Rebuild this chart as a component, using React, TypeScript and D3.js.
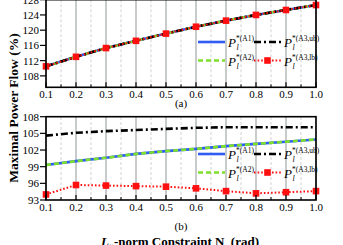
import React from "react";
import * as d3 from "d3";

const xs = [0.1, 0.2, 0.3, 0.4, 0.5, 0.6, 0.7, 0.8, 0.9, 1.0];
const topAll = [110.5, 113.0, 115.3, 117.2, 119.1, 120.9, 122.5, 124.0, 125.3, 126.6];
const botA1 = [99.3, 100.0, 100.6, 101.3, 101.8, 102.2, 102.7, 103.1, 103.5, 103.9];
const botA2 = [99.3, 100.0, 100.6, 101.3, 101.8, 102.2, 102.7, 103.1, 103.5, 103.9];
const botUb = [104.6, 105.1, 105.4, 105.6, 105.8, 106.0, 106.1, 106.1, 106.1, 106.1];
const botLb = [94.0, 95.7, 95.6, 95.5, 95.4, 95.1, 94.6, 94.2, 94.4, 94.6];
const xTicks = [0.1, 0.2, 0.3, 0.4, 0.5, 0.6, 0.7, 0.8, 0.9, 1.0];
const xMinor = [0.15, 0.25, 0.35, 0.45, 0.55, 0.65, 0.75, 0.85, 0.95];
const topTicks = [108, 112, 116, 120, 124, 128];
const botTicks = [93, 96, 99, 102, 105, 108];
const legendKeys = ["A1", "A3,ub", "A2", "A3,lb"];

const FONT = "'Liberation Serif', 'DejaVu Serif', serif";
const BLUE = "#2f5cf5";
const GREEN = "#7ee02a";
const RED = "#ff1010";

const x = d3.scaleLinear().domain([0.1, 1.0]).range([46, 316]);

type PanelProps = {
  y: d3.ScaleLinear<number, number>;
  ticks: number[];
  series: { vals: number[]; kind: string }[];
  caption: string;
  capY: number;
  legY: number;
};

function LegendEntry({ kind, x0, y0, label }: { kind: string; x0: number; y0: number; label: string }) {
  const st = style(kind);
  return (
    <g>
      <line x1={x0} x2={x0 + 27} y1={y0} y2={y0} stroke={st.color} strokeWidth={st.w} strokeDasharray={st.dash} />
      {kind === "lb" && <rect x={x0 + 13.5 - 3.3} y={y0 - 3.3} width={6.6} height={6.6} fill={RED} />}
      <text x={x0 + 30} y={y0 + 5} fontFamily={FONT} fontSize={13} fontStyle="italic">P</text>
      <text x={x0 + 38} y={y0 - 1} fontFamily={FONT} fontSize={7.5}>{"*(" + label + ")"}</text>
      <text x={x0 + 38.5} y={y0 + 8} fontFamily={FONT} fontSize={8} fontStyle="italic">l</text>
    </g>
  );
}

function style(kind: string) {
  if (kind === "A1") return { color: BLUE, w: 2.6, dash: undefined as string | undefined };
  if (kind === "A2") return { color: GREEN, w: 2.6, dash: "5,3" };
  if (kind === "ub") return { color: "#000", w: 2.6, dash: "7,3,2,3" };
  return { color: RED, w: 2, dash: "1.6,2" };
}

function Panel({ y, ticks, series, caption, capY, legY }: PanelProps) {
  const [y0, y1] = y.range();
  const line = (vals: number[]) =>
    d3.line<number>().x((_, i) => x(xs[i])).y((v) => y(v))(vals) || "";
  return (
    <g>
      {xMinor.map((t) => (
        <line key={"m" + t} x1={x(t)} x2={x(t)} y1={y0} y2={y1} stroke="#c8c8c8" strokeWidth={0.8} strokeDasharray="3,2" />
      ))}
      {xTicks.map((t) => (
        <line key={"g" + t} x1={x(t)} x2={x(t)} y1={y0} y2={y1} stroke="#9aa0a0" strokeWidth={1.1} />
      ))}
      {series.map((s, k) => {
        const st = style(s.kind);
        return (
          <g key={k}>
            <path d={line(s.vals)} fill="none" stroke={st.color} strokeWidth={st.w} strokeDasharray={st.dash} />
            {s.kind === "lb" &&
              s.vals.map((v, i) => (
                <rect key={i} x={x(xs[i]) - 3.3} y={y(v) - 3.3} width={6.6} height={6.6} fill={RED} />
              ))}
          </g>
        );
      })}
      <rect x={46} y={y1} width={270} height={y0 - y1} fill="none" stroke="#000" strokeWidth={1.6} />
      {xTicks.map((t) => (
        <g key={"t" + t}>
          <line x1={x(t)} x2={x(t)} y1={y0} y2={y0 - 5} stroke="#000" strokeWidth={1.2} />
          <text x={x(t)} y={y0 + 11} textAnchor="middle" fontFamily={FONT} fontSize={11}>
            {t.toFixed(1)}
          </text>
        </g>
      ))}
      {xMinor.map((t) => (
        <line key={"mt" + t} x1={x(t)} x2={x(t)} y1={y0} y2={y0 - 3} stroke="#000" strokeWidth={1} />
      ))}
      {ticks.map((t) => (
        <g key={"y" + t}>
          <line x1={40} x2={46} y1={y(t)} y2={y(t)} stroke="#000" strokeWidth={1.2} />
          <text x={39} y={y(t) + 4} textAnchor="end" fontFamily={FONT} fontSize={11}>
            {t}
          </text>
        </g>
      ))}
      <text x={181} y={capY} textAnchor="middle" fontFamily={FONT} fontSize={11}>
        {caption}
      </text>
      <LegendEntry kind="A1" x0={198} y0={legY} label={legendKeys[0]} />
      <LegendEntry kind="ub" x0={254} y0={legY} label={legendKeys[1]} />
      <LegendEntry kind="A2" x0={198} y0={legY + 18.5} label={legendKeys[2]} />
      <LegendEntry kind="lb" x0={254} y0={legY + 18.5} label={legendKeys[3]} />
    </g>
  );
}

export default function App() {
  const yTop = d3.scaleLinear().domain([105, 128]).range([87.3, -0.3]);
  const yBot = d3.scaleLinear().domain([93, 108]).range([200, 116.7]);
  return (
    <svg
      width={343}
      height={245}
      style={{ position: "fixed", left: 0, top: 0, background: "#fff" }}
    >
      <rect width={343} height={245} fill="#fff" />
      <Panel
        y={yTop}
        ticks={topTicks}
        series={[
          { vals: topAll, kind: "A1" },
          { vals: topAll, kind: "A2" },
          { vals: topAll, kind: "ub" },
          { vals: topAll, kind: "lb" },
        ]}
        caption="(a)"
        capY={107}
        legY={42}
      />
      <Panel
        y={yBot}
        ticks={botTicks}
        series={[
          { vals: botA1, kind: "A1" },
          { vals: botA2, kind: "A2" },
          { vals: botUb, kind: "ub" },
          { vals: botLb, kind: "lb" },
        ]}
        caption="(b)"
        capY={230}
        legY={154}
      />
      <text
        transform="translate(18,108) rotate(-90)"
        textAnchor="middle"
        fontFamily={FONT}
        fontSize={13.5}
        fontWeight="bold"
      >
        Maximal Power Flow (%)
      </text>
      <text x={180} y={246} textAnchor="middle" fontFamily={FONT} fontSize={13} fontWeight="bold">
        <tspan fontStyle="italic">L</tspan>
        <tspan fontSize={7} dy={2}>∞</tspan>
        <tspan dy={-2}>-norm Constraint N</tspan>
        <tspan fontSize={7} dy={2}>r</tspan>
        <tspan dy={-2}> (rad)</tspan>
      </text>
    </svg>
  );
}
